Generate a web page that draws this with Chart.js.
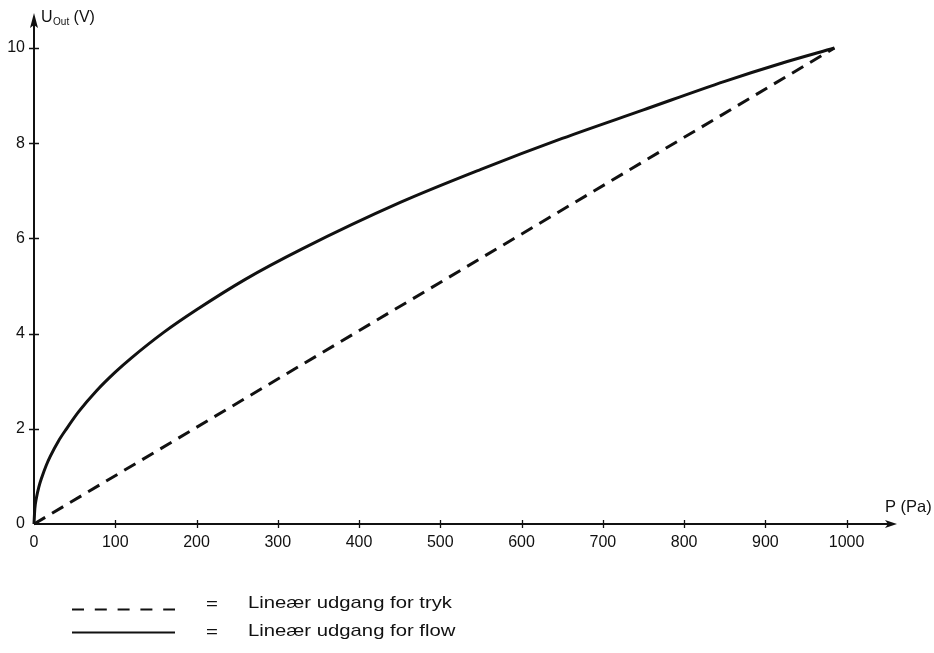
<!DOCTYPE html>
<html>
<head>
<meta charset="utf-8">
<script src="https://cdn.jsdelivr.net/npm/chart.js@4"></script>
<style>
  html, body { margin: 0; padding: 0; background: #fff; }
  #wrap { width: 934px; height: 653px; position: relative; }
</style>
</head>
<body>
<div id="wrap"><canvas id="Chart"></canvas></div>
<script>
// values
let pressure = [0, 1, 3, 6, 10, 15, 20, 30, 40, 55, 77, 100, 120, 160, 200, 260, 330, 450, 550, 650, 750, 850, 920, 985]
let flowOutput = [0, 0.32, 0.55, 0.78, 1.0, 1.23, 1.42, 1.74, 2.0, 2.36, 2.8, 3.19, 3.49, 4.03, 4.5, 5.14, 5.78, 6.75, 7.45, 8.1, 8.7, 9.3, 9.68, 10]
let linearPressure = [0, 985]
let linearOutput = [0, 10]
let xTicks = [0, 100, 200, 300, 400, 500, 600, 700, 800, 900, 1000]
let yTicks = [0, 2, 4, 6, 8, 10]
let legendLabels = ['Lineær udgang for tryk', 'Lineær udgang for flow']

const FONT = '"Liberation Sans", Arial, Helvetica, sans-serif'
const INK = '#111'

function toPoints(xs, ys) {
    return xs.map((x, i) => ({ x: x, y: ys[i] }))
}

const axesPlugin = {
    id: 'axes',
    afterDraw(chart) {
        const ctx = chart.ctx
        const xs = chart.scales.x
        const ys = chart.scales.y
        const x0 = xs.getPixelForValue(0)
        const y0 = ys.getPixelForValue(0)
        const xEnd = chart.chartArea.right
        const yEnd = chart.chartArea.top

        ctx.save()
        ctx.strokeStyle = INK
        ctx.fillStyle = INK
        ctx.lineWidth = 2

        // axis lines
        ctx.beginPath()
        ctx.moveTo(x0, y0)
        ctx.lineTo(xEnd - 8, y0)
        ctx.moveTo(x0, y0)
        ctx.lineTo(x0, yEnd + 10)
        ctx.stroke()

        // arrow heads
        ctx.beginPath()
        ctx.moveTo(xEnd, y0)
        ctx.lineTo(xEnd - 12, y0 - 4)
        ctx.lineTo(xEnd - 9, y0)
        ctx.lineTo(xEnd - 12, y0 + 4)
        ctx.closePath()
        ctx.fill()
        ctx.beginPath()
        ctx.moveTo(x0, yEnd)
        ctx.lineTo(x0 - 4, yEnd + 15)
        ctx.lineTo(x0, yEnd + 12)
        ctx.lineTo(x0 + 4, yEnd + 15)
        ctx.closePath()
        ctx.fill()

        // tick marks crossing the axes
        ctx.lineWidth = 1.3
        ctx.beginPath()
        xTicks.forEach(v => {
            if (v === 0) return
            const px = Math.round(xs.getPixelForValue(v)) + 0.5
            ctx.moveTo(px, y0 - 4)
            ctx.lineTo(px, y0 + 4)
        })
        yTicks.forEach(v => {
            if (v === 0) return
            const py = Math.round(ys.getPixelForValue(v)) + 0.5
            ctx.moveTo(x0 - 5, py)
            ctx.lineTo(x0 + 5, py)
        })
        ctx.stroke()

        // axis titles
        ctx.textBaseline = 'alphabetic'
        ctx.textAlign = 'left'
        ctx.font = '16px ' + FONT
        ctx.fillText('U', x0 + 7, 22)
        let w = ctx.measureText('U').width
        ctx.font = '10px ' + FONT
        ctx.fillText('Out', x0 + 7 + w + 0.5, 25)
        let w2 = ctx.measureText('Out').width
        ctx.font = '16px ' + FONT
        ctx.fillText(' (V)', x0 + 7 + w + 0.5 + w2, 22)

        ctx.font = '16.5px ' + FONT
        ctx.fillText('P (Pa)', xEnd - 12, y0 - 12)

        // legend
        const lx1 = 72, lx2 = 175
        const rows = [609.5, 632.5]
        const bases = [608, 636]
        ctx.lineWidth = 2
        ctx.setLineDash([12, 10.8])
        ctx.beginPath()
        ctx.moveTo(lx1, rows[0])
        ctx.lineTo(lx2, rows[0])
        ctx.stroke()
        ctx.setLineDash([])
        ctx.beginPath()
        ctx.moveTo(lx1, rows[1])
        ctx.lineTo(lx2, rows[1])
        ctx.stroke()

        ctx.font = '17px ' + FONT
        const sx = 204 / ctx.measureText(legendLabels[0]).width
        legendLabels.forEach((t, i) => {
            ctx.save()
            ctx.translate(206, bases[i] + 1)
            ctx.scale(1.2, 1)
            ctx.fillText('=', 0, 0)
            ctx.restore()
            ctx.save()
            ctx.translate(248, bases[i])
            ctx.scale(sx, 1)
            ctx.fillText(t, 0, 0)
            ctx.restore()
        })
        ctx.restore()
    }
}

const chart = new Chart(document.getElementById('Chart'), {
    type: 'line',
    data: {
        datasets: [{
            label: legendLabels[0],
            data: toPoints(linearPressure, linearOutput),
            borderColor: INK,
            borderWidth: 3,
            borderDash: [13, 8],
            pointRadius: 0,
            fill: false,
            clip: false
        },
        {
            label: legendLabels[1],
            data: toPoints(pressure, flowOutput),
            borderColor: INK,
            borderWidth: 3,
            cubicInterpolationMode: 'monotone',
            pointRadius: 0,
            fill: false,
            clip: false
        }]
    },
    options: {
        responsive: true,
        maintainAspectRatio: false,
        animation: false,
        events: [],
        layout: { padding: { top: 13, right: 37, left: 0, bottom: 0 } },
        plugins: { legend: { display: false }, tooltip: { enabled: false } },
        scales: {
            x: {
                type: 'linear',
                min: 0,
                max: 1062,
                grid: { display: false, drawTicks: false },
                border: { display: false },
                afterBuildTicks: s => { s.ticks = xTicks.map(v => ({ value: v })) },
                afterFit: s => { s.height = 129; s.paddingLeft = 0; s.paddingRight = 0 },
                ticks: {
                    padding: 9,
                    color: INK,
                    font: { family: FONT, size: 16 },
                    maxRotation: 0,
                    autoSkip: false,
                    callback: v => String(v)
                }
            },
            y: {
                type: 'linear',
                min: 0,
                max: 10.735,
                grid: { display: false, drawTicks: false },
                border: { display: false },
                afterBuildTicks: s => { s.ticks = yTicks.map(v => ({ value: v })) },
                afterFit: s => { s.width = 34; s.paddingTop = 0; s.paddingBottom = 0 },
                ticks: {
                    padding: 9,
                    color: INK,
                    font: { family: FONT, size: 16 },
                    autoSkip: false,
                    callback: v => String(v)
                }
            }
        }
    },
    plugins: [axesPlugin]
})
</script>
</body>
</html>
